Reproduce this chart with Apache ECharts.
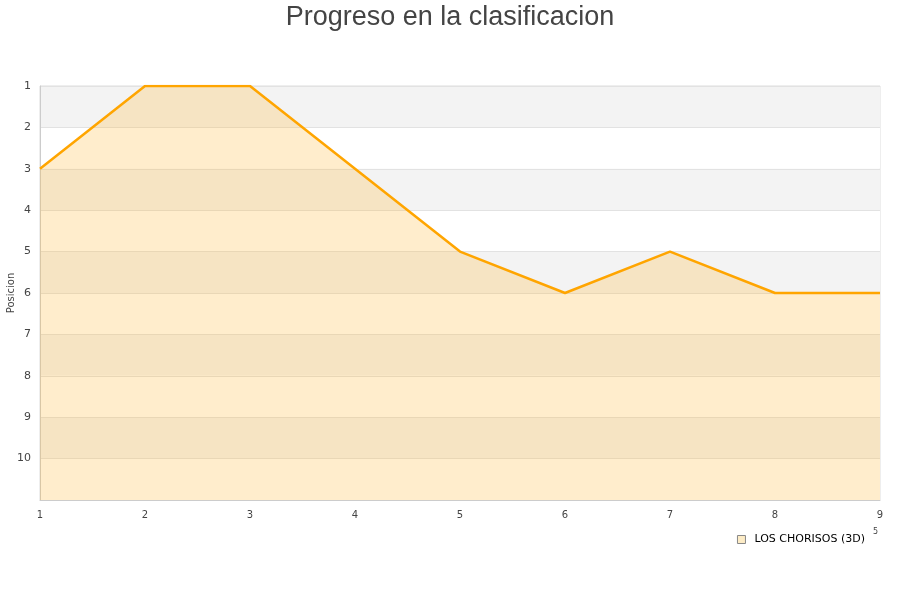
<!DOCTYPE html>
<html>
<head>
<meta charset="utf-8">
<script src="https://cdn.jsdelivr.net/npm/echarts@6/dist/echarts.min.js"></script>
<style>html,body{margin:0;padding:0;background:#fff}#c{width:900px;height:600px}</style>
</head>
<body>
<div id="c"></div>
<script>
var titleText = 'Progreso en la clasificacion';
var jornadas = ['1','2','3','4','5','6','7','8','9'];
var posiciones = [3,1,1,3,5,6,5,6,6];
var seriesName = 'LOS CHORISOS (3D)';
var yAxisName = 'Posicion';

var chart = echarts.init(document.getElementById('c'));
chart.setOption({
  animation: false,
  title: {
    text: titleText, left: 'center', top: 2, padding: 2,
    textStyle: { fontFamily: 'Liberation Sans', fontSize: 27, fontWeight: 'normal', color: '#444' }
  },
  legend: {
    right: 35, top: 534, itemWidth: 8, itemHeight: 8, itemGap: 10, padding: 0,
    icon: 'rect',
    textStyle: { fontFamily: 'DejaVu Sans', fontSize: 11, color: '#000', padding: [0, 0, 0, 4] },
    data: [{ name: seriesName, itemStyle: { color: '#fdecc6', borderColor: '#888', borderWidth: 1 } }]
  },
  graphic: [{ type: 'text', left: 873, top: 528, style: { text: '5', fontSize: 8, fontFamily: 'DejaVu Sans', fill: '#444' } }],
  grid: { left: 40, right: 20, top: 86, bottom: 100, show: true, borderColor: '#ddd', borderWidth: 1, backgroundColor: 'transparent', outerBoundsMode: 'none', containLabel: false },
  xAxis: {
    type: 'category', data: jornadas, boundaryGap: false,
    axisLine: { show: true, lineStyle: { color: '#ccc' } },
    axisTick: { show: false },
    axisLabel: { fontFamily: 'DejaVu Sans', fontSize: 10, color: '#444', margin: 10 },
    splitLine: { show: false }
  },
  yAxis: {
    type: 'value', inverse: true, min: 1, max: 11, interval: 1,
    name: yAxisName, nameLocation: 'middle', nameGap: 24, nameRotate: 90, nameMoveOverlap: false,
    nameTextStyle: { fontFamily: 'DejaVu Sans', fontSize: 10, color: '#444' },
    axisLine: { show: true, lineStyle: { color: '#ccc' } },
    axisTick: { show: false },
    axisLabel: {
      fontFamily: 'DejaVu Sans', fontSize: 11, color: '#444', margin: 9,
      formatter: function (v) { return v >= 11 ? '' : String(v); }
    },
    splitLine: { show: true, lineStyle: { color: '#e2e2e2' } },
    splitArea: { show: true, areaStyle: { color: ['#f3f3f3', '#ffffff'] } }
  },
  series: [{
    name: seriesName, type: 'line', data: posiciones,
    symbol: 'none', z: 3,
    lineStyle: { color: '#ffa500', width: 2.5 },
    itemStyle: { color: '#ffa500' },
    areaStyle: { color: 'rgba(255,183,51,0.25)', opacity: 1, origin: 'end' }
  }]
});
</script>
</body>
</html>
